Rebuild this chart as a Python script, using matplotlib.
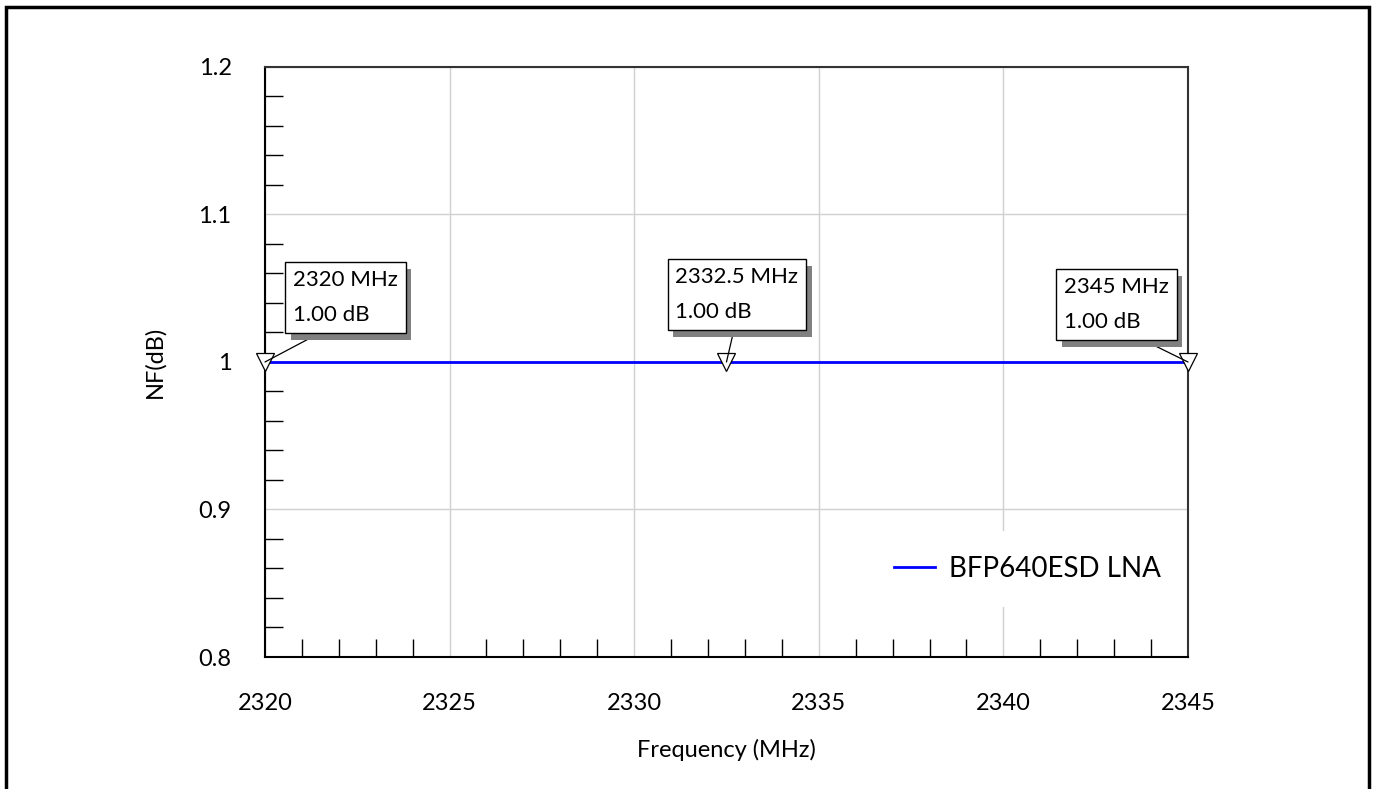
import numpy as np
import matplotlib.pyplot as plt
import matplotlib.patheffects as pe
from matplotlib.patches import Rectangle
from matplotlib.ticker import MultipleLocator

plt.rcParams['font.family'] = ['Lato', 'DejaVu Sans']

freq = [2320, 2332.5, 2345]
nf = [1.00, 1.00, 1.00]
series_name = 'BFP640ESD LNA'
marker_freq = [2320, 2332.5, 2345]
marker_nf = [1.00, 1.00, 1.00]

fig = plt.figure(figsize=(13.75, 7.89), dpi=100)
# outer frame
fig.patches.append(Rectangle((0.0045, -0.01), 0.991, 1.001, transform=fig.transFigure,
                             fill=False, edgecolor='black', linewidth=2.5))
ax = fig.add_axes([0.1927, 0.1673, 0.6713, 0.7478])

ax.plot(freq, nf, color='#0000ff', linewidth=2, label=series_name, zorder=3)
ax.plot(marker_freq, marker_nf, linestyle='none', marker='v', markersize=13,
        markerfacecolor='white', markeredgecolor='black', markeredgewidth=0.9,
        zorder=4, clip_on=False)

ax.set_xlim(2320, 2345)
ax.set_ylim(0.8, 1.2)
ax.xaxis.set_major_locator(MultipleLocator(5))
ax.xaxis.set_minor_locator(MultipleLocator(1))
ax.yaxis.set_minor_locator(MultipleLocator(0.02))
ax.set_yticks([0.8, 0.9, 1.0, 1.1, 1.2], ['0.8', '0.9', '1', '1.1', '1.2'])
ax.grid(True, which='major', color='#d0d0d0', linewidth=1)
ax.tick_params(which='major', length=0, labelsize=17)
ax.tick_params(which='minor', direction='in', length=13, width=1, color='black')
ax.tick_params(axis='x', pad=26)
ax.tick_params(axis='y', pad=24)
for s in ['left', 'bottom']:
    ax.spines[s].set_linewidth(1.5)
for s in ['top', 'right']:
    ax.spines[s].set_linewidth(1.5)
    ax.spines[s].set_color('#333333')

ax.set_xlabel('Frequency (MHz)', fontsize=17, labelpad=18)
ax.set_ylabel('NF(dB)', fontsize=17, labelpad=24)

leg = ax.legend(loc='lower right', bbox_to_anchor=(0.998, 0.085), borderaxespad=0,
                fontsize=20, frameon=True, fancybox=False, edgecolor='none',
                framealpha=1, handlelength=1.5, handletextpad=0.5, borderpad=0.9)

offsets = [(28, 37), (-51, 40), (-124, 30)]
relpos = [(0.4, 0), (0.49, 0), (0.6, 0)]
for f, v, off, rp in zip(marker_freq, marker_nf, offsets, relpos):
    t = ax.annotate('%g MHz\n%.2f dB' % (f, v), xy=(f, v), xytext=off,
                    textcoords='offset pixels', fontsize=16, linespacing=1.95,
                    ha='left', va='bottom', zorder=6, annotation_clip=False,
                    bbox=dict(boxstyle='square,pad=0.35', facecolor='white',
                              edgecolor='black', linewidth=1),
                    arrowprops=dict(arrowstyle='-', color='black', linewidth=0.9,
                                    shrinkA=0, shrinkB=0, relpos=rp))
    t.get_bbox_patch().set_path_effects([
        pe.SimplePatchShadow(offset=(4, -5), shadow_rgbFace='#808080', alpha=1),
        pe.Normal()])

fig.savefig('out.png', dpi=100, facecolor='white')
